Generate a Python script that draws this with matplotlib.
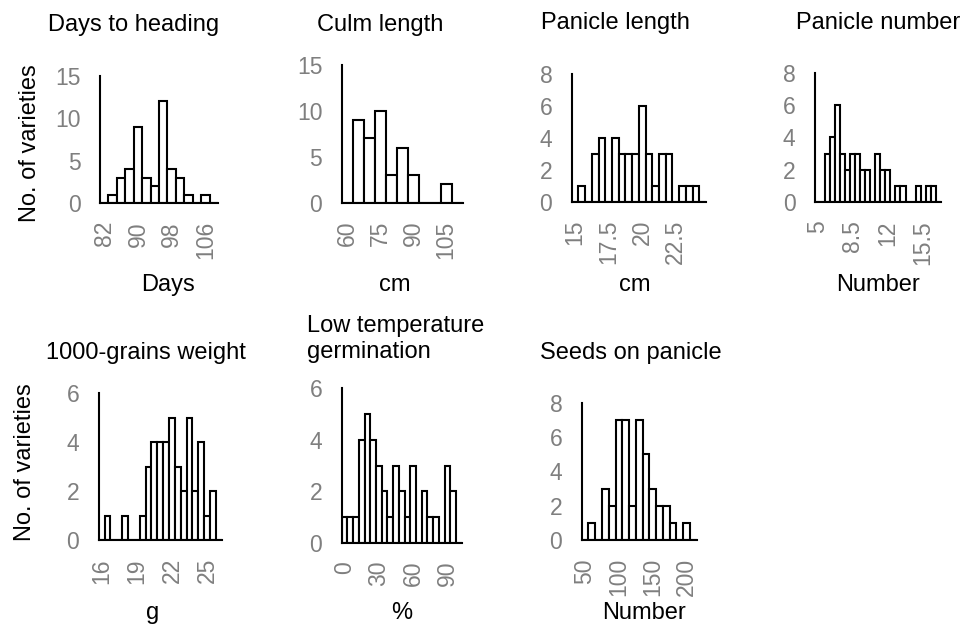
import matplotlib
matplotlib.use("Agg")
import matplotlib.pyplot as plt
import numpy as np

plt.rcParams['font.family'] = ['Liberation Sans', 'DejaVu Sans']

W, H = 973, 628

# ---- data ----
heading_bins = [82, 84, 86, 88, 90, 92, 94, 96, 98, 100, 102, 104, 106, 108]
heading_counts = [0, 1, 3, 4, 9, 3, 2, 12, 4, 3, 1, 0, 1, 0]
heading_ticks = [82, 90, 98, 106]

culm_bins = [60, 65, 70, 75, 80, 85, 90, 95, 100, 105, 110]
culm_counts = [0, 9, 7, 10, 3, 6, 3, 0, 0, 2, 0]
culm_ticks = [60, 75, 90, 105]

plen_bins = [15, 15.5, 16, 16.5, 17, 17.5, 18, 18.5, 19, 19.5, 20, 20.5, 21, 21.5, 22, 22.5, 23, 23.5, 24, 24.5]
plen_counts = [0, 1, 0, 3, 4, 0, 4, 3, 3, 3, 6, 3, 1, 3, 3, 0, 1, 1, 1, 0]
plen_ticks = [15, 17.5, 20, 22.5]

pnum_bins = [5, 5.5, 6, 6.5, 7, 7.5, 8, 8.5, 9, 9.5, 10, 10.5, 11, 11.5, 12, 12.5, 13, 13.5, 14, 14.5, 15, 15.5, 16, 16.5, 17]
pnum_counts = [0, 0, 3, 4, 6, 3, 2, 3, 3, 2, 2, 0, 3, 2, 2, 0, 1, 1, 0, 0, 1, 0, 1, 1, 0]
pnum_ticks = [5, 8.5, 12, 15.5]

grain_bins = [16, 16.5, 17, 17.5, 18, 18.5, 19, 19.5, 20, 20.5, 21, 21.5, 22, 22.5, 23, 23.5, 24, 24.5, 25, 25.5, 26]
grain_counts = [0, 1, 0, 0, 1, 0, 0, 1, 3, 4, 4, 4, 5, 3, 2, 5, 2, 4, 1, 2, 0]
grain_ticks = [16, 19, 22, 25]

germ_bins = [0, 5, 10, 15, 20, 25, 30, 35, 40, 45, 50, 55, 60, 65, 70, 75, 80, 85, 90, 95, 100]
germ_counts = [1, 1, 1, 4, 5, 4, 3, 2, 1, 3, 2, 1, 3, 0, 2, 1, 1, 0, 3, 2, 0]
germ_ticks = [0, 30, 60, 90]

seeds_bins = [50, 60, 70, 80, 90, 100, 110, 120, 130, 140, 150, 160, 170, 180, 190, 200, 210]
seeds_counts = [0, 1, 0, 3, 2, 7, 7, 2, 7, 5, 3, 2, 2, 1, 0, 1, 0]
seeds_ticks = [50, 100, 150, 200]

titles = ["Days to heading", "Culm length", "Panicle length", "Panicle number",
          "1000-grains weight", "Low temperature\ngermination", "Seeds on panicle"]
xlabels = ["Days", "cm", "cm", "Number", "g", "%", "Number"]
ymaxes = [15, 15, 8, 8, 6, 6, 8]
ysteps = [5, 5, 2, 2, 2, 2, 2]
ylabel = "No. of varieties"

panels = [
    (heading_bins, heading_counts, heading_ticks),
    (culm_bins, culm_counts, culm_ticks),
    (plen_bins, plen_counts, plen_ticks),
    (pnum_bins, pnum_counts, pnum_ticks),
    (grain_bins, grain_counts, grain_ticks),
    (germ_bins, germ_counts, germ_ticks),
    (seeds_bins, seeds_counts, seeds_ticks),
]

# layout in pixels: (x_left, x_right, y_zero, y_top)
rects = [
    (100, 218, 203, 76),
    (341.7, 462.7, 202.7, 65),
    (571.7, 706, 201.7, 74),
    (815, 940.7, 202.3, 72.7),
    (98.7, 221.7, 540, 393.3),
    (341.7, 461.7, 542.7, 388.3),
    (581.7, 696.7, 540, 402.7),
]
title_pos = [(134, 25, 'center'), (380, 25, 'center'), (615, 23, 'center'), (878, 23, 'center'),
             (146, 353, 'center'), (307, 339, 'left'), (631, 353, 'center')]
xlabel_pos = [(168, 285), (395, 285), (635, 285), (878, 285), (153, 613), (402, 613), (644, 613)]
ylabel_pos = [(30, 143), (25, 462)]

FS = 17
TFS = 16.5
gray = '#7f7f7f'

fig = plt.figure(figsize=(W / 100, H / 100), dpi=100)

for i, ((bins, counts, ticks), (x0, x1, y0, yt)) in enumerate(zip(panels, rects)):
    ax = fig.add_axes([x0 / W, 1 - y0 / H, (x1 - x0) / W, (y0 - yt) / H])
    step = bins[1] - bins[0]
    ax.bar(bins, counts, width=step, color='white', edgecolor='black', linewidth=1.5)
    ax.set_xlim(bins[0] - step / 2, bins[-1] + step / 2)
    ax.set_ylim(0, ymaxes[i])
    ax.set_yticks(np.arange(0, ymaxes[i] + 0.01, ysteps[i]))
    ax.set_xticks(ticks)
    ax.set_xticklabels([("%g" % t) for t in ticks], rotation=90)
    ax.tick_params(length=0, labelsize=TFS, labelcolor=gray)
    ax.tick_params(axis='y', pad=14)
    ax.tick_params(axis='x', pad=13)
    for s in ['top', 'right']:
        ax.spines[s].set_visible(False)
    for s in ['left', 'bottom']:
        ax.spines[s].set_linewidth(1.5)
    ax.patch.set_alpha(0)
    tx, ty, ha = title_pos[i]
    fig.text(tx / W, 1 - ty / H, titles[i], ha=ha, va='center', fontsize=FS, linespacing=1.2)
    lx, ly = xlabel_pos[i]
    fig.text(lx / W, 1 - ly / H, xlabels[i], ha='center', va='center', fontsize=FS)

for (lx, ly) in ylabel_pos:
    fig.text(lx / W, 1 - ly / H, ylabel, ha='center', va='center', rotation=90, fontsize=FS)

fig.savefig("out.png", dpi=100)
